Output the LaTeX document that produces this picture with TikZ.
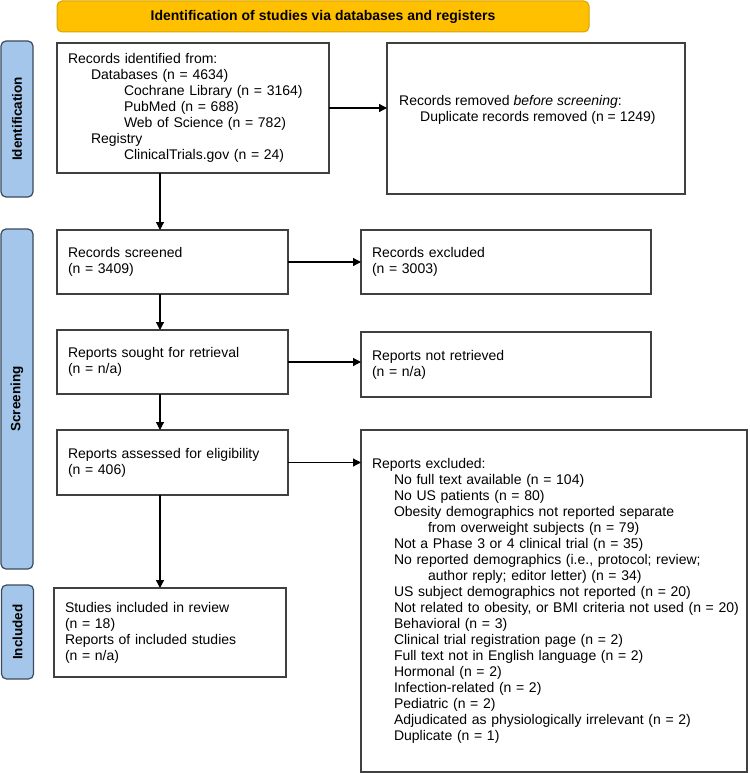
\documentclass[tikz,border=0pt]{standalone}
\usepackage{fontspec}
\setmainfont{Liberation Sans}
\usepackage{tikz}
\usetikzlibrary{calc,positioning,arrows.meta}
\usepackage{xcolor}

\definecolor{boxgray}{HTML}{404040}
\definecolor{bannerfill}{HTML}{FFC000}
\definecolor{bannerdraw}{HTML}{D9A300}
\definecolor{barblue}{HTML}{A4C6EA}
\definecolor{bardark}{HTML}{3B4A5C}

\tikzset{
	box/.style={draw=boxgray, line width=1.2pt, fill=white, align=left, inner xsep=11pt, inner ysep=0pt, anchor=north west, outer sep=0pt, font=\fontsize{14}{16}\selectfont},
	phase/.style={draw=bardark, fill=barblue, line width=1.2pt, rounded corners=5pt, rotate=90, minimum height=32pt, inner sep=0pt, font=\fontsize{13.5}{16}\selectfont\bfseries},
	>={Triangle[length=8pt,width=8pt]}
}

\begin{document}
\begin{tikzpicture}[x=1pt, y=-1pt]

			\useasboundingbox (0, 0) rectangle (749, 773);

			\coordinate (arrowx) at (160, 0);

			% banner and phases
			\node[draw=bannerdraw, fill=bannerfill, line width=1pt, rounded corners=5pt, minimum width=532pt, minimum height=31pt, inner sep=0pt, font=\fontsize{14}{16}\selectfont\bfseries] (banner) at (323, 16.5) {Identification of studies via databases and registers};

			\node[phase, minimum width=156pt] (idphase) at (17, 119) {Identification};
			\node[phase, minimum width=340pt] (scrphase) at (17, 399) {Screening};
			\node[phase, minimum width=94pt] (incphase) at (17.5, 632) {Included};

			% left column
			\node[box, text width=250pt, minimum height=130pt] (idbox) at (57, 43) {Records identified from:\\
				\hspace*{23pt}Databases (n = 4634)\\
				\hspace*{56pt}Cochrane Library (n = 3164)\\
				\hspace*{56pt}PubMed (n = 688)\\
				\hspace*{56pt}Web of Science (n = 782)\\
				\hspace*{23pt}Registry\\
				\hspace*{56pt}ClinicalTrials.gov (n = 24)};
			\node[box, text width=209pt, minimum height=64pt] (screened) at (57, 230) {Records screened\\(n = 3409)};
			\node[box, text width=209pt, minimum height=64pt] (sought) at (57, 330) {Reports sought for retrieval\\(n = n/a)};
			\node[box, text width=209pt, minimum height=65pt] (assessed) at (57, 430) {Reports assessed for eligibility\\(n = 406)};
			\node[box, text width=210pt, minimum height=89pt] (included) at (54, 588) {Studies included in review\\(n = 18)\\Reports of included studies\\(n = n/a)};

			% right column
			\node[box, text width=276pt, minimum height=151pt] (removed) at (387, 43) {};
			\node[anchor=west, align=left, inner sep=0pt, font=\fontsize{14}{16}\selectfont] (removedtxt) at (399, 110) {Records removed \textit{before screening}:\\
				\hspace*{21pt}Duplicate records removed (n = 1249)};
			\node[box, text width=268pt, minimum height=64pt] (excluded) at (361, 230) {Records excluded\\(n = 3003)};
			\node[box, text width=268pt, minimum height=65pt] (notretrieved) at (361, 332) {Reports not retrieved\\(n = n/a)};
			\node[box, text width=364pt, minimum height=342pt] (repexcluded) at (361, 430) {Reports excluded:\\
				\hspace*{22pt}No full text available (n = 104)\\
				\hspace*{22pt}No US patients (n = 80)\\
				\hspace*{22pt}Obesity demographics not reported separate\\
				\hspace*{56pt}from overweight subjects (n = 79)\\
				\hspace*{22pt}Not a Phase 3 or 4 clinical trial (n = 35)\\
				\hspace*{22pt}No reported demographics (i.e., protocol; review;\\
				\hspace*{56pt}author reply; editor letter) (n = 34)\\
				\hspace*{22pt}US subject demographics not reported (n = 20)\\
				\hspace*{22pt}\mbox{Not related to obesity, or BMI criteria not used (n = 20)}\\
				\hspace*{22pt}Behavioral (n = 3)\\
				\hspace*{22pt}Clinical trial registration page (n = 2)\\
				\hspace*{22pt}Full text not in English language (n = 2)\\
				\hspace*{22pt}Hormonal (n = 2)\\
				\hspace*{22pt}Infection-related (n = 2)\\
				\hspace*{22pt}Pediatric (n = 2)\\
				\hspace*{22pt}Adjudicated as physiologically irrelevant (n = 2)\\
				\hspace*{22pt}Duplicate (n = 1)};

			% arrows
			\foreach \From/\To in {idbox/screened, screened/sought, sought/assessed, assessed/included}
			{
					\draw[->, line width=1.2pt] (\From.south -| arrowx) -- (\To.north -| arrowx);
			}
			\foreach \From/\To in {idbox/removed, screened/excluded, sought/notretrieved, assessed/repexcluded}
			{
					\draw[->, line width=1.2pt] (\From.east) -- (\From.east -| \To.west);
			}

		\end{tikzpicture}
\end{document}
